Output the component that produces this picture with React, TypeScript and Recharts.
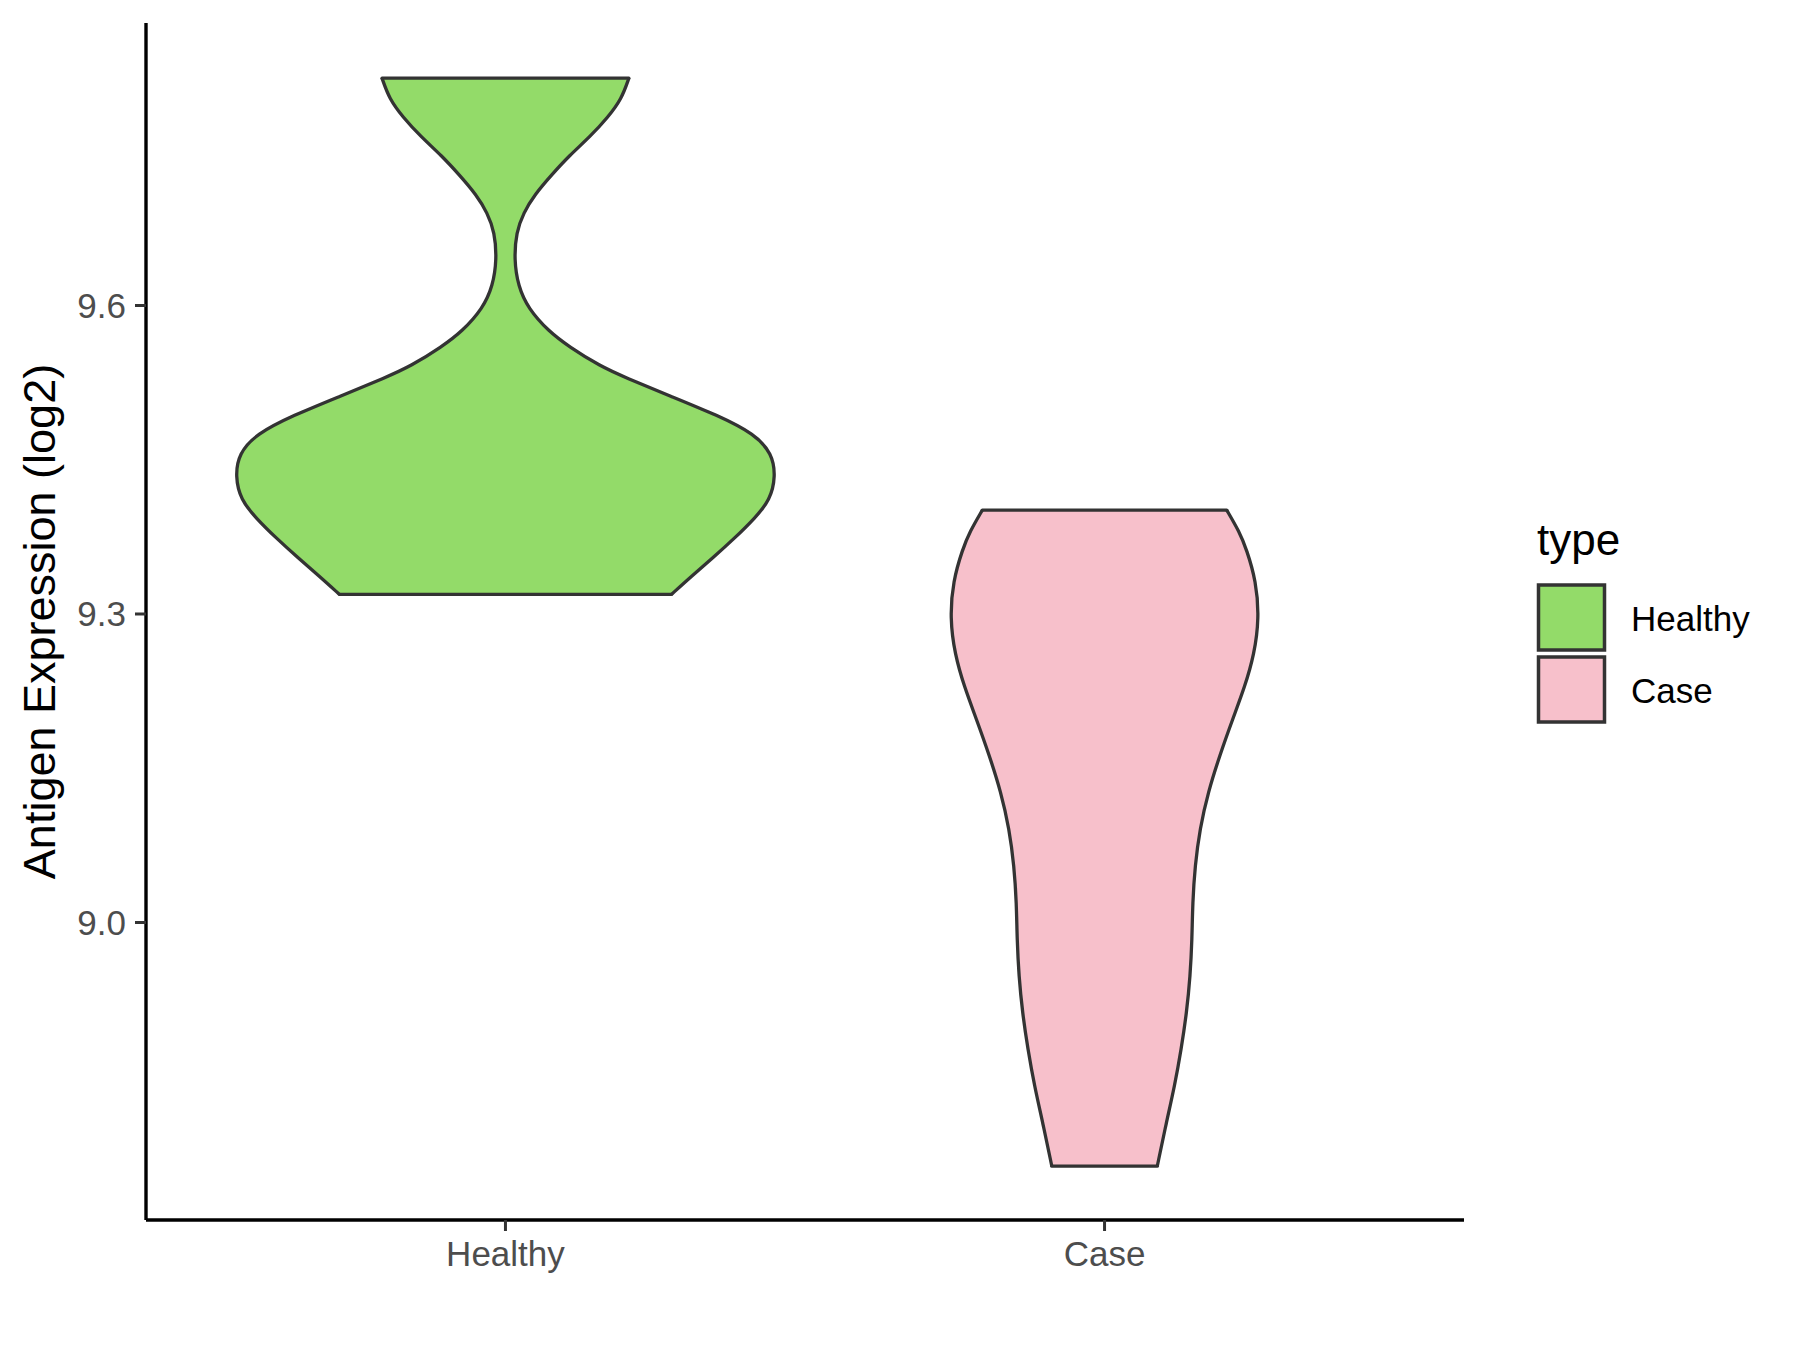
import { ComposedChart, Area, XAxis, YAxis, ReferenceLine, Legend, Label } from "recharts";

const FONT = '"Liberation Sans", Arial, sans-serif';

const categories = ["Healthy", "Case"];
const fills = ["#93DB69", "#F7C0CB"];

// violin outlines: expression level (log2) and half width of the violin (in category units)
const healthyLevels = [
  9.821, 9.801, 9.783, 9.764, 9.746, 9.727, 9.708, 9.69, 9.671, 9.645, 9.619, 9.597, 9.575,
  9.56, 9.541, 9.53, 9.512, 9.493, 9.475, 9.456, 9.434, 9.411, 9.393, 9.374, 9.355, 9.337, 9.319,
];
const healthyHalfWidth = [
  0.206, 0.194, 0.171, 0.141, 0.107, 0.077, 0.049, 0.03, 0.018, 0.0145, 0.021, 0.038, 0.072,
  0.106, 0.158, 0.2, 0.275, 0.355, 0.416, 0.445, 0.451, 0.442, 0.416, 0.383, 0.347, 0.311, 0.277,
];
const caseLevels = [
  9.401, 9.38, 9.363, 9.332, 9.296, 9.261, 9.229, 9.198, 9.162, 9.127, 9.091, 9.055, 9.019,
  8.983, 8.948, 8.912, 8.877, 8.841, 8.805, 8.763,
];
const caseHalfWidth = [
  0.204, 0.225, 0.237, 0.253, 0.258, 0.25, 0.234, 0.214, 0.192, 0.173, 0.159, 0.151, 0.147,
  0.146, 0.143, 0.137, 0.128, 0.117, 0.103, 0.088,
];

const yTicks = [9.0, 9.3, 9.6];
const yDomain = [8.7107, 9.8747];
const xDomain = [0.4, 2.6];

type Row = { y: number; w: number };
const toRows = (levels: number[], widths: number[]): Row[] =>
  levels.map((y, i) => ({ y, w: widths[i] }));

const violins = [
  { name: categories[0], pos: 1, fill: fills[0], rows: toRows(healthyLevels, healthyHalfWidth) },
  { name: categories[1], pos: 2, fill: fills[1], rows: toRows(caseLevels, caseHalfWidth) },
];

const OUTLINE = "#333333";
const OUTLINE_W = 3.3;

const renderLegend = () => (
  <svg width={260} height={250} style={{ fontFamily: FONT, overflow: "visible" }}>
    <text x={9} y={52} fontSize={44} fill="#000">
      type
    </text>
    {categories.map((c, i) => (
      <g key={c}>
        <rect x={10.5} y={82 + i * 72} width={66} height={65} fill={fills[i]} stroke={OUTLINE} strokeWidth={3.5} />
        <text x={103} y={128 + i * 72} fontSize={35} fill="#000">
          {c}
        </text>
      </g>
    ))}
  </svg>
);

const renderYLabel = (props: any) => {
  const vb = props.viewBox || { x: 0, y: 15, width: 138, height: 1197 };
  const x = vb.x + 47;
  const y = vb.y + vb.height / 2;
  return (
    <text x={x} y={y} transform={`rotate(-90, ${x}, ${y})`} textAnchor="middle" fontSize={45} fill="#000">
      Antigen Expression (log2)
    </text>
  );
};

export default function App() {
  return (
    <div style={{ width: 1792, height: 1342, fontFamily: FONT }}>
      <ComposedChart
        width={1792}
        height={1342}
        layout="vertical"
        margin={{ top: 15, right: 336, bottom: 0, left: 0 }}
      >
        <XAxis
          type="number"
          domain={xDomain}
          ticks={[1, 2]}
          allowDataOverflow
          tickFormatter={(v: number) => categories[v - 1]}
          height={130}
          tickSize={11}
          tickMargin={10}
          tick={{ fontSize: 35, fill: "#4D4D4D" }}
          axisLine={{ stroke: "#000", strokeWidth: 3.4 }}
          tickLine={{ stroke: OUTLINE, strokeWidth: 3 }}
        />
        <YAxis
          type="number"
          dataKey="y"
          reversed
          domain={yDomain}
          ticks={yTicks}
          allowDataOverflow
          tickFormatter={(v: number) => v.toFixed(1)}
          width={138}
          tickSize={11}
          tickMargin={9}
          tick={{ fontSize: 35, fill: "#4D4D4D" }}
          axisLine={{ stroke: "#000", strokeWidth: 3.4 }}
          tickLine={{ stroke: OUTLINE, strokeWidth: 3 }}
        >
          <Label content={renderYLabel} />
        </YAxis>
        {violins.map((v) => (
          <Area
            key={v.name}
            name={v.name}
            data={v.rows}
            dataKey={(d: Row) => [v.pos - d.w, v.pos + d.w]}
            type="basis"
            fill={v.fill}
            fillOpacity={1}
            stroke={OUTLINE}
            strokeWidth={OUTLINE_W}
            dot={false}
            activeDot={false}
            isAnimationActive={false}
          />
        ))}
        {violins.map((v) => {
          const top = v.rows[0];
          const bottom = v.rows[v.rows.length - 1];
          return [top, bottom].map((r, i) => (
            <ReferenceLine
              key={`${v.name}-${i}`}
              segment={[
                { x: v.pos - r.w, y: r.y },
                { x: v.pos + r.w, y: r.y },
              ]}
              stroke={OUTLINE}
              strokeWidth={OUTLINE_W}
              strokeLinecap="round"
              ifOverflow="visible"
            />
          ));
        })}
        <Legend
          layout="vertical"
          align="center"
          verticalAlign="middle"
          content={renderLegend}
          wrapperStyle={{ left: 1520, top: 495, width: 260, height: 250 }}
        />
      </ComposedChart>
    </div>
  );
}
